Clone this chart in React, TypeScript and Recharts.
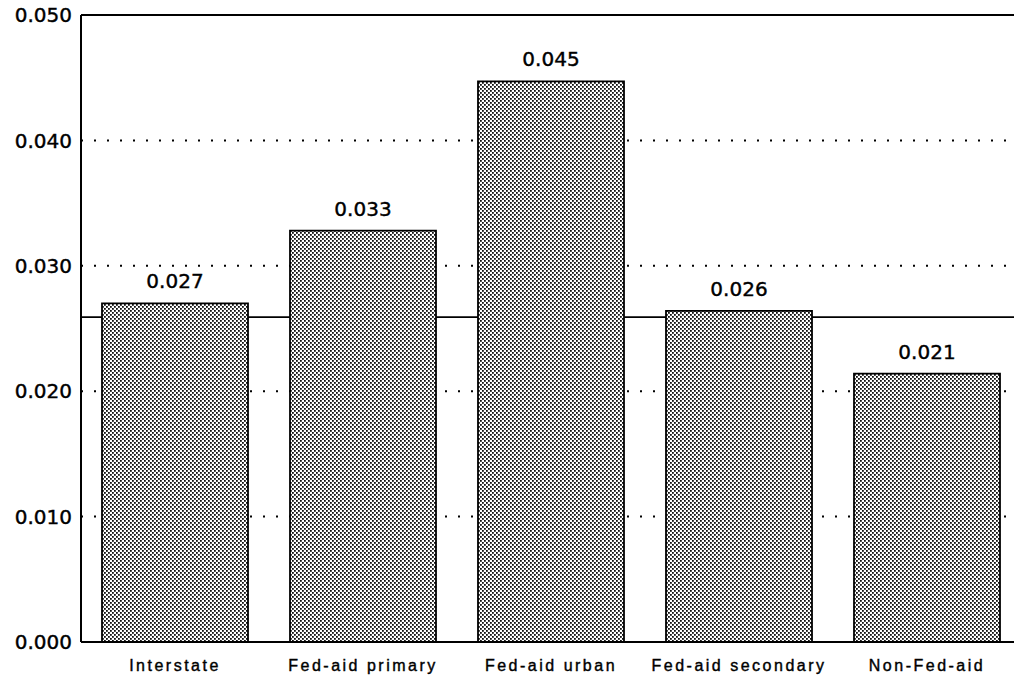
import { Bar, BarChart, CartesianGrid, LabelList, XAxis, YAxis } from "recharts";

const categories = ["Interstate", "Fed-aid primary", "Fed-aid urban", "Fed-aid secondary", "Non-Fed-aid"];
const rates = [0.027, 0.0328, 0.0447, 0.0264, 0.0214];
const yTicks = [0, 0.01, 0.02, 0.03, 0.04, 0.05];
const gridTicks = [0.01, 0.02, 0.03, 0.04];
const averageRate = 0.0259;

const data = categories.map((name, i) => ({ name, rate: rates[i] }));

const App = () => {
  return (
    <div style={{ position: "fixed", top: 0, left: 0, width: 1014, height: 680, overflow: "hidden", background: "#fff" }}>
      <BarChart width={1021} height={680} data={data} margin={{ top: 15, right: 0, bottom: 0, left: 0 }}>
        <defs>
          <pattern id="stipple" width={4} height={4} patternUnits="userSpaceOnUse">
            <rect width={4} height={4} fill="#fff" />
            <rect x={0} y={0} width={1.8} height={1.8} fill="#111" />
            <rect x={2} y={2} width={1.8} height={1.8} fill="#111" />
          </pattern>
        </defs>
        {/* dotted grid */}
        <CartesianGrid vertical={false} horizontalValues={gridTicks} stroke="#000" strokeWidth={2} strokeDasharray="2 11" />
        {/* solid average line and top frame line, both behind the bars */}
        <CartesianGrid vertical={false} horizontalValues={[averageRate, 0.05]} stroke="#000" strokeWidth={1.8} />
        <XAxis
          dataKey="name"
          height={38}
          tickLine={false}
          tickSize={0}
          tickMargin={18}
          axisLine={{ stroke: "#000", strokeWidth: 2 }}
          tick={{ fill: "#000", stroke: "#000", strokeWidth: 0.4, fontSize: 16, fontFamily: "Liberation Sans", letterSpacing: 2.5 }}
          interval={0}
        />
        <YAxis
          width={81}
          domain={[0, 0.05]}
          ticks={yTicks}
          tickLine={false}
          tickSize={0}
          tickMargin={9}
          axisLine={{ stroke: "#000", strokeWidth: 2 }}
          tick={{ fill: "#000", stroke: "#000", strokeWidth: 0.4, fontSize: 20, fontFamily: "DejaVu Sans" }}
          tickFormatter={(v: number) => v.toFixed(3)}
        />
        <Bar dataKey="rate" barSize={146} fill="url(#stipple)" stroke="#000" strokeWidth={1.8} isAnimationActive={false}>
          <LabelList
            dataKey="rate"
            position="top"
            offset={15}
            fill="#000"
            stroke="#000"
            strokeWidth={0.4}
            fontSize={20}
            fontFamily="DejaVu Sans"
            formatter={(v: any) => Number(v).toFixed(3)}
          />
        </Bar>
      </BarChart>
    </div>
  );
};

export default App;
